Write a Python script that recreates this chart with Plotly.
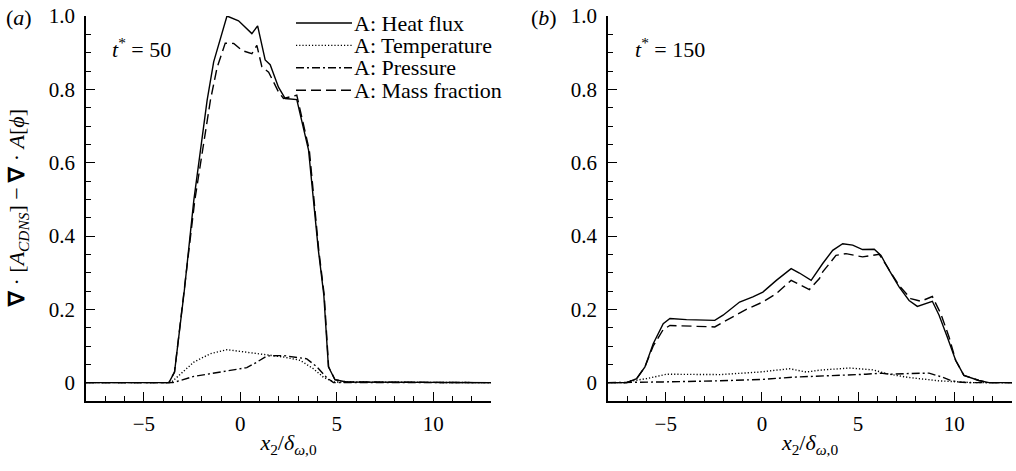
import plotly.graph_objects as go

# ---------------- data: panel (a), t* = 50 ----------------
xa_heat = [-8, -3.7, -3.41, -2.9, -2.41, -1.72, -1.38, -0.69, -0.09, 0.6, 0.9, 1.29, 1.55, 1.98, 2.33, 2.93, 3.54, 3.8, 4.05, 4.33, 4.57, 4.91, 5.5, 13]
ya_heat = [0, 0, 0.029, 0.252, 0.497, 0.77, 0.875, 1.0, 0.987, 0.952, 0.973, 0.88, 0.867, 0.806, 0.775, 0.772, 0.634, 0.497, 0.361, 0.24, 0.043, 0.008, 0.002, 0]

xa_temp = [-8, -3.6, -2.41, -1.55, -0.69, 0.34, 1.21, 2.24, 3.1, 3.79, 4.31, 4.83, 13]
ya_temp = [0, 0, 0.056, 0.079, 0.09, 0.083, 0.077, 0.07, 0.061, 0.038, 0.015, 0.002, 0]

xa_pres = [-8, -3.5, -2.41, -1.38, -0.52, 0.34, 0.86, 1.38, 2.24, 2.93, 3.45, 3.97, 4.48, 4.83, 13]
ya_pres = [0, 0, 0.017, 0.026, 0.034, 0.041, 0.056, 0.073, 0.074, 0.07, 0.065, 0.043, 0.014, 0, 0]

xa_mass = [-8, -3.7, -3.41, -2.9, -2.36, -1.55, -1.2, -0.78, -0.34, 0.09, 0.6, 0.86, 1.12, 1.47, 1.98, 2.24, 2.93, 3.58, 3.83, 4.07, 4.35, 4.58, 4.91, 5.5, 13]
ya_mass = [0, 0, 0.029, 0.25, 0.497, 0.77, 0.86, 0.926, 0.925, 0.906, 0.897, 0.92, 0.861, 0.847, 0.793, 0.775, 0.784, 0.634, 0.497, 0.361, 0.24, 0.043, 0.008, 0.002, 0]

# ---------------- data: panel (b), t* = 150 ----------------
xb_heat = [-8, -7.03, -6.51, -6.08, -5.65, -5.13, -4.78, -3.92, -2.45, -2.02, -1.16, -0.47, 0.05, 0.75, 1.52, 1.95, 2.56, 3.16, 3.68, 4.2, 4.72, 5.23, 5.84, 6.19, 6.62, 7.13, 7.65, 8.08, 8.86, 9.21, 9.64, 10.07, 10.5, 11.28, 11.8, 13]
yb_heat = [0, 0, 0.011, 0.043, 0.106, 0.161, 0.175, 0.172, 0.17, 0.184, 0.22, 0.234, 0.247, 0.279, 0.311, 0.299, 0.279, 0.325, 0.361, 0.379, 0.375, 0.363, 0.364, 0.347, 0.306, 0.261, 0.224, 0.208, 0.222, 0.184, 0.124, 0.061, 0.02, 0.006, 0, 0]

xb_temp = [-8, -7.0, -6.86, -5.99, -4.95, -2.19, -0.12, 1.43, 2.3, 2.99, 4.54, 5.75, 6.62, 7.65, 9.21, 10.2, 11.0, 13]
yb_temp = [0, 0, 0.004, 0.011, 0.023, 0.022, 0.029, 0.038, 0.029, 0.034, 0.04, 0.035, 0.023, 0.014, 0.005, 0.002, 0, 0]

xb_pres = [-8, -6.3, -5.13, -2.19, 0.05, 1.61, 2.99, 3.68, 5.41, 6.19, 6.62, 7.65, 8.69, 9.38, 9.81, 10.2, 10.8, 13]
yb_pres = [0, 0, 0.002, 0.005, 0.009, 0.015, 0.018, 0.018, 0.023, 0.026, 0.023, 0.025, 0.026, 0.015, 0.006, 0.002, 0, 0]

xb_mass = [-8, -7.03, -6.51, -6.08, -5.65, -5.13, -4.78, -2.45, -2.02, -0.81, 0.05, 0.75, 1.52, 1.86, 2.47, 2.99, 3.16, 3.85, 4.37, 5.23, 6.1, 6.53, 7.13, 7.74, 8.26, 8.86, 9.3, 9.73, 10.07, 10.5, 11.28, 11.8, 13]
yb_mass = [0, 0, 0.011, 0.043, 0.1, 0.145, 0.156, 0.152, 0.165, 0.2, 0.22, 0.243, 0.279, 0.27, 0.254, 0.284, 0.302, 0.347, 0.352, 0.343, 0.35, 0.315, 0.265, 0.229, 0.222, 0.235, 0.188, 0.124, 0.061, 0.02, 0.006, 0, 0]

series_names = ["A: Heat flux", "A: Temperature", "A: Pressure", "A: Mass fraction"]
x_ticks = [-5, 0, 5, 10]
y_ticks = [0, 0.2, 0.4, 0.6, 0.8, 1.0]
y_tick_text = ["0", "0.2", "0.4", "0.6", "0.8", "1.0"]
panel_labels = ["(<i>a</i>)", "(<i>b</i>)"]
time_labels = ["<i>t</i><sup>*</sup> = 50", "<i>t</i><sup>*</sup> = 150"]

# ---------------- styling ----------------
FONT = "Liberation Serif"
FS = 21
FS_T = 22
W, H = 1016, 471
MT, MB = 16, 70
dashes = ["solid", "1.2px,2px", "8px,3px,2px,3px", "10px,5px"]
LW = 1.4


def px_x(p):
    return p / W


def px_y(p):
    return (H - MB - p) / (H - MT - MB)


fig = go.Figure()
panels = [
    ("x", "y", [(xa_heat, ya_heat), (xa_temp, ya_temp), (xa_pres, ya_pres), (xa_mass, ya_mass)]),
    ("x2", "y2", [(xb_heat, yb_heat), (xb_temp, yb_temp), (xb_pres, yb_pres), (xb_mass, yb_mass)]),
]
for xa, ya, data in panels:
    for (xs, ys), name, dash in zip(data, series_names, dashes):
        fig.add_trace(go.Scatter(x=xs, y=ys, mode="lines", name=name, xaxis=xa, yaxis=ya,
                                 line=dict(color="black", width=LW, dash=dash), showlegend=False))

xaxis_common = dict(range=[-8, 13], tickmode="array", tickvals=x_ticks, ticks="inside", ticklen=9,
                    tickwidth=1.3, tickcolor="black", showline=True, linecolor="black", linewidth=1.5,
                    showgrid=False, zeroline=False,
                    minor=dict(tickmode="linear", tick0=0, dtick=1, ticks="inside", ticklen=5,
                               tickwidth=1.1, tickcolor="black", showgrid=False),
                    tickfont=dict(family=FONT, size=FS, color="black"),
                    title=dict(text="<i>x</i><sub>2</sub>/<i>δ</i><sub><i>ω</i>,0</sub>",
                               font=dict(family=FONT, size=FS_T, color="black"), standoff=0),
                    ticklabelstandoff=3)
yaxis_common = dict(range=[-0.05, 1.0], tickmode="array", tickvals=y_ticks, ticktext=y_tick_text,
                    ticks="inside", ticklen=9, tickwidth=1.3, tickcolor="black", showline=True,
                    linecolor="black", linewidth=1.5, showgrid=False, zeroline=False,
                    minor=dict(tickmode="linear", tick0=0, dtick=0.05, ticks="inside", ticklen=5,
                               tickwidth=1.1, tickcolor="black", showgrid=False),
                    tickfont=dict(family=FONT, size=FS, color="black"), ticklabelstandoff=5)

fig.update_layout(
    width=W, height=H,
    margin=dict(l=0, r=0, t=MT, b=MB),
    paper_bgcolor="white", plot_bgcolor="white",
    font=dict(family=FONT, size=FS, color="black"),
    showlegend=False,
    xaxis=dict(domain=[px_x(86), px_x(491)], anchor="y", **xaxis_common),
    yaxis=dict(domain=[0, 1], anchor="x", **yaxis_common),
    xaxis2=dict(domain=[px_x(608), px_x(1012)], anchor="y2", **xaxis_common),
    yaxis2=dict(domain=[0, 1], anchor="x2", **yaxis_common),
)

annotations = []
# y-axis title
annotations.append(dict(text="<b>∇</b> · [<i>A</i><sub><i>CDNS</i></sub>] − <b>∇</b> · <i>A</i>[<i>ϕ</i>]",
                        xref="paper", yref="paper", x=px_x(18), y=px_y(208), textangle=-90,
                        showarrow=False, xanchor="center", yanchor="middle",
                        font=dict(family=FONT, size=FS_T, color="black")))
# panel labels
for lab, lx in zip(panel_labels, [4, 529]):
    annotations.append(dict(text=lab, xref="paper", yref="paper", x=px_x(lx), y=px_y(17),
                            xanchor="left", yanchor="middle", showarrow=False,
                            font=dict(family=FONT, size=FS_T, color="black")))
for lab, lx in zip(time_labels, [110, 633]):
    annotations.append(dict(text=lab, xref="paper", yref="paper", x=px_x(lx), y=px_y(48),
                            xanchor="left", yanchor="middle", showarrow=False,
                            font=dict(family=FONT, size=FS_T, color="black")))

# legend (manual, in panel a)
shapes = []
row0, row_gap = 23, 22.4
for i, (name, dash) in enumerate(zip(series_names, dashes)):
    py = row0 + i * row_gap
    shapes.append(dict(type="line", xref="paper", yref="paper", x0=px_x(296), x1=px_x(352),
                       y0=px_y(py), y1=px_y(py), line=dict(color="black", width=LW, dash=dash)))
    annotations.append(dict(text=name, xref="paper", yref="paper", x=px_x(352), y=px_y(py),
                            xanchor="left", yanchor="middle", showarrow=False,
                            font=dict(family=FONT, size=FS_T, color="black")))

fig.update_layout(annotations=annotations, shapes=shapes)
fig.write_html("out.html")
